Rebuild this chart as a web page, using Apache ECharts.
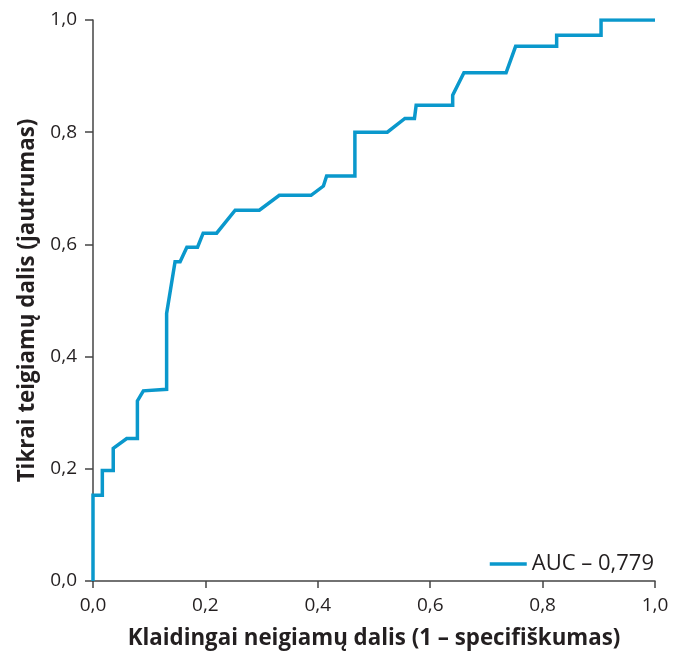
<!DOCTYPE html>
<html>
<head>
<meta charset="utf-8">
<script src="https://cdn.jsdelivr.net/npm/echarts@6/dist/echarts.min.js"></script>
<style>
html,body{margin:0;padding:0;background:#fff;}
#chart{width:673px;height:662px;}
</style>
</head>
<body>
<div id="chart"></div>
<script>
// False positive rate (1 - specificity)
var fprValues = [0, 0, 0.0166, 0.0166, 0.036, 0.036, 0.060, 0.079, 0.079, 0.0896, 0.131, 0.131, 0.146, 0.155, 0.167, 0.186, 0.196, 0.220, 0.253, 0.296, 0.3315, 0.388, 0.410, 0.4125, 0.4157, 0.466, 0.466, 0.5237, 0.555, 0.572, 0.575, 0.640, 0.640, 0.660, 0.735, 0.752, 0.825, 0.825, 0.904, 0.904, 1.0];
// True positive rate (sensitivity)
var tprValues = [0, 0.153, 0.153, 0.197, 0.197, 0.2365, 0.254, 0.254, 0.321, 0.339, 0.3417, 0.477, 0.569, 0.569, 0.595, 0.595, 0.620, 0.620, 0.661, 0.661, 0.6875, 0.6875, 0.704, 0.707, 0.722, 0.722, 0.800, 0.800, 0.8245, 0.8245, 0.848, 0.848, 0.866, 0.906, 0.906, 0.953, 0.953, 0.973, 0.973, 1.0, 1.0];
var tickValues = [0, 0.2, 0.4, 0.6, 0.8, 1.0];
var seriesName = 'AUC – 0,779';
var xTitle = 'Klaidingai neigiamų dalis (1 – specifiškumas)';
var yTitle = 'Tikrai teigiamų dalis (jautrumas)';

var points = fprValues.map(function (x, i) { return [x, tprValues[i]]; });
function fmt(v) { return v.toFixed(1).replace('.', ','); }

var textColor = '#231f20';
var axisColor = '#444444';
var font = 'Open Sans';

var chart = echarts.init(document.getElementById('chart'));
chart.setOption({
  animation: false,
  backgroundColor: '#ffffff',
  grid: { left: 93, right: 18, top: 20, bottom: 81, containLabel: false },
  legend: {
    data: [{ name: seriesName, icon: 'rect' }],
    right: 14, top: 548,
    itemWidth: 37, itemHeight: 3.5,
    itemGap: 6,
    textStyle: { fontFamily: font, fontSize: 22, color: textColor, padding: [0, 0, 0, 0] }
  },
  xAxis: {
    type: 'value', min: 0, max: 1, interval: 0.2,
    name: xTitle, nameLocation: 'middle', nameGap: 47,
    nameTextStyle: { fontFamily: font, fontWeight: 'bold', fontSize: 22.3, color: textColor },
    axisLine: { show: true, lineStyle: { color: axisColor, width: 1.5 } },
    axisTick: { show: true, length: 7, lineStyle: { color: axisColor, width: 1.5 } },
    axisLabel: { formatter: fmt, fontFamily: font, fontSize: 19, color: textColor, margin: 15 },
    splitLine: { show: false }
  },
  yAxis: {
    type: 'value', min: 0, max: 1, interval: 0.2,
    name: yTitle, nameLocation: 'middle', nameGap: 54, nameRotate: 90,
    nameTextStyle: { fontFamily: font, fontWeight: 'bold', fontSize: 22.3, color: textColor },
    axisLine: { show: true, lineStyle: { color: axisColor, width: 1.5 } },
    axisTick: { show: true, length: 8, lineStyle: { color: axisColor, width: 1.5 } },
    axisLabel: { formatter: fmt, fontFamily: font, fontSize: 19, color: textColor, margin: 16 },
    splitLine: { show: false }
  },
  series: [{
    name: seriesName,
    type: 'line',
    data: points,
    showSymbol: false,
    symbol: 'none',
    lineStyle: { color: '#0a98cc', width: 3.5, join: 'miter' },
    itemStyle: { color: '#0a98cc' }
  }]
});
</script>
</body>
</html>
